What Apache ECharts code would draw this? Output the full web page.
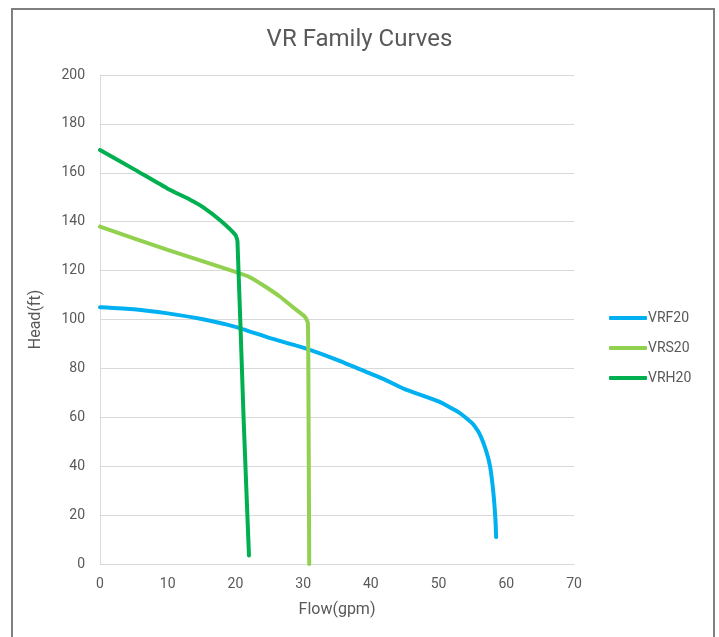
<!DOCTYPE html>
<html>
<head>
<meta charset="utf-8">
<script src="https://cdn.jsdelivr.net/npm/echarts@6/dist/echarts.min.js"></script>
<style>
html,body{margin:0;padding:0;background:#fff;}
#wrap{position:relative;width:719px;height:637px;}
#chart{position:absolute;left:0;top:0;width:719px;height:637px;}
#frame{position:absolute;left:11px;top:8px;width:700px;height:640px;border:2px solid #7f7f7f;border-bottom:none;pointer-events:none;}
</style>
</head>
<body>
<div id="wrap"><div id="chart"></div><div id="frame"></div></div>
<script>
const titleText = 'VR Family Curves';
const xAxisName = 'Flow(gpm)';
const yAxisName = 'Head(ft)';
const seriesNames = ['VRF20', 'VRS20', 'VRH20'];

const vrf20 = [[0,105],[5,104.2],[10,102.5],[15,100.2],[20,97],[25,92.5],[30,88.5],[35,83.5],[40,77.8],[42,75.5],[45,71.5],[50,66.5],[53,62],[55,57.5],[56,53.5],[57,46.5],[57.6,40],[58.1,29],[58.4,18],[58.5,11]];
const vrs20 = [[0,138],[5,133.2],[10,128.5],[15,124],[20,119.5],[22,117.5],[24.1,114],[26.6,109.3],[28.5,105],[30.3,101],[30.7,98.5],[30.8,60],[30.9,0]];
const vrh20 = [[0,169.3],[5,161.5],[10,153.5],[13.3,149],[15.2,146],[17.7,140.7],[20,134.6],[20.3,132],[21.2,60],[22,3.5]];

const colors = ['#00b0f0', '#92d050', '#00b050'];
const dataSets = [vrf20, vrs20, vrh20];

const chart = echarts.init(document.getElementById('chart'));
const txt = '#595959';
chart.setOption({
  animation: false,
  title: {
    text: titleText, left: 'center', top: 23,
    textStyle: {color: txt, fontSize: 24, fontWeight: 'normal', fontFamily: 'Roboto'}
  },
  legend: {
    orient: 'vertical', left: 604, top: 306, itemGap: 16,
    itemWidth: 38, itemHeight: 4, icon: 'roundRect',
    textStyle: {color: txt, fontSize: 14, fontFamily: 'Roboto', padding: [0,0,0,-4]},
    data: seriesNames
  },
  grid: {left: 100, right: 145, top: 75, bottom: 73},
  xAxis: {
    type: 'value', min: 0, max: 70, interval: 10,
    name: xAxisName, nameLocation: 'middle', nameGap: 38,
    nameTextStyle: {color: txt, fontSize: 16, fontFamily: 'Roboto'},
    axisLine: {show: true, lineStyle: {color: '#d9d9d9', width: 1}},
    axisTick: {show: false},
    axisLabel: {color: txt, fontSize: 14, fontFamily: 'Roboto', margin: 13},
    splitLine: {show: false}
  },
  yAxis: {
    type: 'value', min: 0, max: 200, interval: 20,
    name: yAxisName, nameLocation: 'middle', nameGap: 56,
    nameTextStyle: {color: txt, fontSize: 16, fontFamily: 'Roboto'},
    axisLine: {show: true, lineStyle: {color: '#d9d9d9', width: 1}},
    axisTick: {show: false},
    axisLabel: {color: txt, fontSize: 14, fontFamily: 'Roboto', margin: 15},
    splitLine: {show: true, lineStyle: {color: '#d9d9d9', width: 1}}
  },
  series: seriesNames.map((n, i) => ({
    name: n, type: 'line', data: dataSets[i], symbol: 'none', smooth: 0.15,
    lineStyle: {color: colors[i], width: 4, cap: 'round'},
    itemStyle: {color: colors[i]}
  }))
});
</script>
</body>
</html>
